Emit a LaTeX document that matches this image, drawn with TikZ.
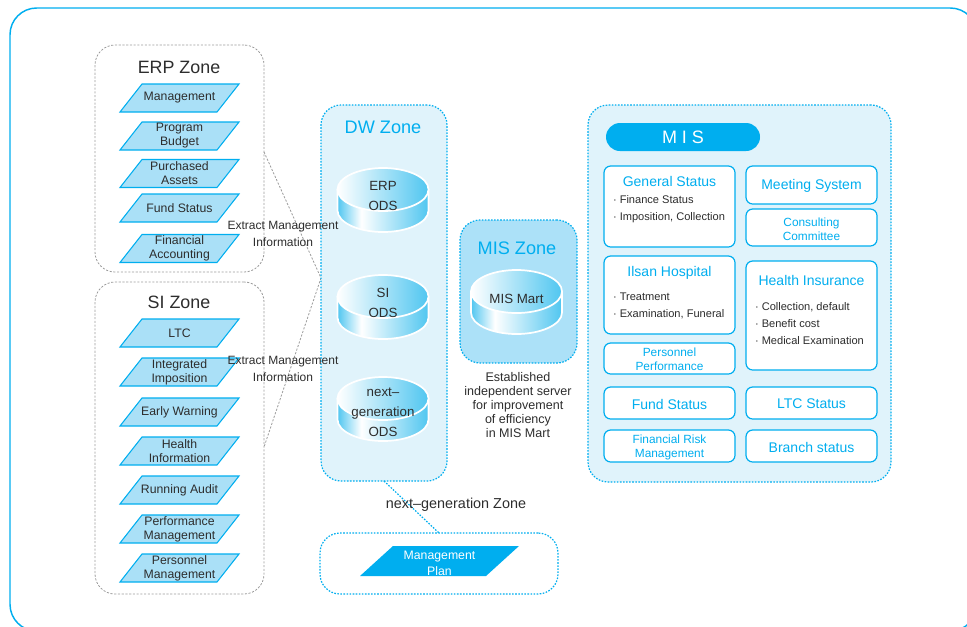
\documentclass[tikz,border=0pt]{standalone}
\usepackage{fontspec}
\setmainfont{Liberation Sans}
\usetikzlibrary{fit}

\definecolor{cyanM}{RGB}{0,174,239}
\definecolor{panelF}{RGB}{224,243,251}
\definecolor{zoneF}{RGB}{172,225,248}
\definecolor{paraF}{RGB}{170,224,247}
\definecolor{grayL}{RGB}{155,155,155}
\definecolor{txt}{RGB}{45,45,45}
\definecolor{cylc}{RGB}{80,198,240}

\pgfdeclarehorizontalshading{cylsideshade}{100bp}{color(0bp)=(cylc); color(25bp)=(cylc); color(38bp)=(white); color(75bp)=(cylc); color(100bp)=(cylc)}

% database cylinder: name, centre x, top-ellipse centre y (downwards), label y, label
\newcommand\dbcyl[5]{%
  \path[draw=white, line width=1.3pt, shading=cylsideshade]
    (#2-45.5,-#3) -- (#2-45.5,-#3-21)
    arc[start angle=180, end angle=360, x radius=45.5, y radius=21.5]
    -- (#2+45.5,-#3) -- cycle;
  \path[draw=white, line width=1.3pt, left color=white, right color=cylc]
    (#2,-#3) ellipse [x radius=45.5, y radius=21.5];
  \node[odstext] (#1) at (#2,-#4) {#5};
}
% slanted item box: name, centre x, centre y (downwards), label
\newcommand\paraitem[4]{%
  \path[parashape] (#2-59.5,-#3-14) -- (#2-37.5,-#3+14) -- (#2+59.5,-#3+14) -- (#2+37.5,-#3-14) -- cycle;
  \node[paratext] (#1) at (#2,-#3) {#4};
}

\begin{document}
\begin{tikzpicture}[x=0.75pt, y=0.75pt,
  every node/.style={text=txt, inner sep=0pt, outer sep=0pt},
  zonebox/.style={draw=grayL, dash pattern=on 1.6pt off 1.2pt, line width=0.6pt, rounded corners=15pt},
  cyanbox/.style={draw=cyanM, dash pattern=on 1.2pt off 1.1pt, line width=0.9pt, rounded corners=15pt},
  misbox/.style={draw=cyanM, fill=white, line width=0.9pt, rounded corners=5pt},
  parashape/.style={draw=cyanM, fill=paraF, line width=0.8pt},
  paratext/.style={font=\fontsize{9.2}{10.5}\selectfont, align=center},
  odstext/.style={font=\fontsize{10}{15}\selectfont, align=center},
  zonetitle/.style={font=\fontsize{13.4}{16}\selectfont},
  cyantitle/.style={font=\fontsize{13.6}{16}\selectfont, text=cyanM},
  boxtitle/.style={font=\fontsize{10.5}{12}\selectfont, text=cyanM},
  boxsmall/.style={font=\fontsize{8.9}{10.5}\selectfont, text=cyanM, align=center},
  bullets/.style={font=\fontsize{8.3}{12.75}\selectfont, align=left, anchor=west},
  notetext/.style={font=\fontsize{9}{12.75}\selectfont, align=center},
  greylink/.style={draw=grayL, dash pattern=on 1.6pt off 1.2pt, line width=0.6pt},
  cyanlink/.style={draw=cyanM, dash pattern=on 1.2pt off 1.1pt, line width=0.9pt}
]
\useasboundingbox (0,0) rectangle (967,-626);

% outer frame
\begin{scope}
  \clip (0,0) rectangle (967,-626);
  \draw[cyanM, line width=1.1pt, rounded corners=20pt] (10,-8) rectangle (977,-631);
\end{scope}

% ---------- source zones ----------
\node[zonebox, fit={(95,-45) (264,-272)}] (erp) {};
\node[zonetitle] (erpT) at (179,-67) {ERP Zone};
\paraitem{e1}{179.5}{98}{Management}
\paraitem{e2}{179.5}{136}{Program\\Budget}
\paraitem{e3}{179.5}{173.5}{Purchased\\Assets}
\paraitem{e4}{179.5}{208}{Fund Status}
\paraitem{e5}{179.5}{248.5}{Financial\\Accounting}

\node[zonebox, fit={(95,-282) (264,-594)}] (si) {};
\node[zonetitle] (siT) at (179,-302) {SI Zone};
\paraitem{s1}{179.5}{333}{LTC}
\paraitem{s2}{179.5}{372}{Integrated\\Imposition}
\paraitem{s3}{179.5}{412}{Early Warning}
\paraitem{s4}{179.5}{451}{Health\\Information}
\paraitem{s5}{179.5}{490}{Running Audit}
\paraitem{s6}{179.5}{529}{Performance\\Management}
\paraitem{s7}{179.5}{568}{Personnel\\Management}

% extraction links into the DW zone
\coordinate (meet) at (321,-278);
\path[greylink] ([yshift=4.9pt]erp.east) -- (meet) -- ([yshift=-6.8pt]si.east);

% ---------- DW zone ----------
\node[cyanbox, fill=panelF, fit={(321,-105) (447,-481)}] (dw) {};
\node[cyantitle] (dwT) at (383,-127) {DW Zone};
\dbcyl{erpods}{383}{189.5}{196}{ERP\\ODS}
\dbcyl{siods}{383}{296.5}{302.5}{SI\\ODS}
\dbcyl{ngods}{383}{398.5}{412}{next--\\generation\\ODS}

\node[notetext] (ex1) at (283,-234) {Extract Management\\Information};
\node[notetext] (ex2) at (283,-368.5) {Extract Management\\Information};

% ---------- MIS zone ----------
\node[cyanbox, fill=zoneF, fit={(460,-220) (577,-363)}] (miszone) {};
\node[cyantitle] (misZT) at (517,-248) {MIS Zone};
\dbcyl{mart}{516.5}{291.5}{299}{MIS Mart}
\node[font=\fontsize{9.4}{10.5}\selectfont, align=center] (estab) at (518,-405)
  {Established\\independent server\\for improvement\\of efficiency\\in MIS Mart};

% ---------- next-generation zone ----------
\node[cyanbox, fill=white, fit={(320,-533) (558,-594)}] (ngzone) {};
\path[cyanlink] (dw.south) -- (ngzone.north);
\node[font=\fontsize{10.8}{13}\selectfont] (ngT) at (456,-505) {next--generation Zone};
\path[fill=cyanM] (360,-576) -- (393,-546) -- (519,-546) -- (486,-576) -- cycle;
\node[font=\fontsize{9.2}{12}\selectfont, text=white, align=center] (plan) at (439.5,-563) {Management\\Plan};

% ---------- MIS panel ----------
\node[cyanbox, fill=panelF, fit={(588,-105) (891,-482)}] (mis) {};
\node[fill=cyanM, rounded corners=10.5pt, minimum width=115.5pt, minimum height=21pt] (pill) at (683,-137) {};
\node[font=\fontsize{13.5}{16}\selectfont, text=white] (pillT) at (683,-137) {M I S};

\node[misbox, fit={(604,-166) (735,-247)}] (gen) {};
\node[boxtitle] (genT) at (669.5,-181) {General Status};
\node[bullets] (genB) at (613,-209.5) {· Finance Status\\· Imposition, Collection};

\node[misbox, fit={(746,-166) (877,-204)}] (meetb) {};
\node[boxtitle] (meetT) at (811.5,-186) {Meeting System};

\node[misbox, fit={(746,-209) (877,-246)}] (cons) {};
\node[boxsmall] (consT) at (811.5,-229) {Consulting\\Committee};

\node[misbox, fit={(604,-256) (735,-334)}] (ilsan) {};
\node[boxtitle] (ilsanT) at (669.5,-273) {Ilsan Hospital};
\node[bullets] (ilsanB) at (613,-305.5) {· Treatment\\· Examination, Funeral};

\node[misbox, fit={(746,-261) (877,-370)}] (health) {};
\node[boxtitle] (healthT) at (811.5,-280) {Health Insurance};
\node[bullets] (healthB) at (755,-323.5) {· Collection, default\\· Benefit cost\\· Medical Examination};

\node[misbox, fit={(604,-343) (735,-374)}] (pers) {};
\node[boxsmall] (persT) at (669.5,-359.5) {Personnel\\Performance};

\node[misbox, fit={(604,-387) (735,-419)}] (fund) {};
\node[boxtitle] (fundT) at (669.5,-404) {Fund Status};

\node[misbox, fit={(746,-387) (877,-419)}] (ltc) {};
\node[boxtitle] (ltcT) at (811.5,-404) {LTC Status};

\node[misbox, fit={(604,-430) (735,-462)}] (frm) {};
\node[boxsmall] (frmT) at (669.5,-447) {Financial Risk\\Management};

\node[misbox, fit={(746,-430) (877,-462)}] (branch) {};
\node[boxtitle] (branchT) at (811.5,-447) {Branch status};
\end{tikzpicture}
\end{document}
